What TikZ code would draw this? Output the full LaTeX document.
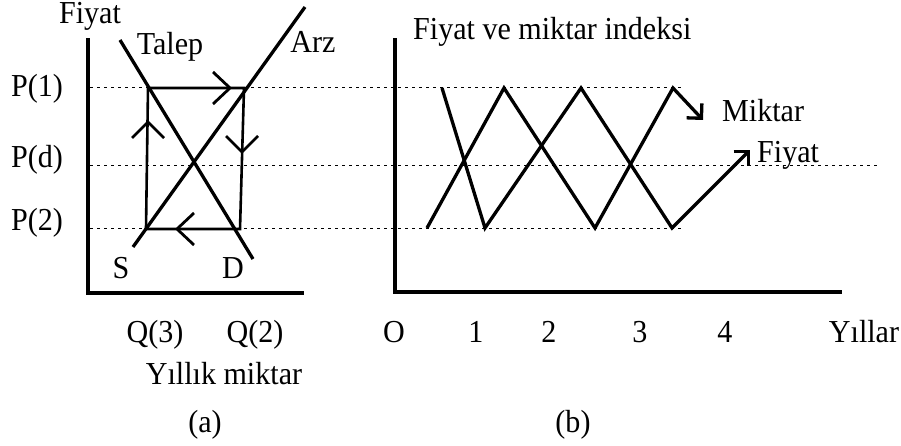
\documentclass[tikz,border=0pt]{standalone}
\usepackage{fontspec}
\setmainfont[FakeStretch=0.94]{Liberation Serif}
\usetikzlibrary{arrows.meta}
\begin{document}
\begin{tikzpicture}[x=1pt,y=-1pt,
  lbl/.style={font=\fontsize{32}{38}\selectfont, inner sep=0pt, anchor=base},
  lblw/.style={lbl, anchor=base west},
  axisline/.style={line width=3.2pt, line cap=rect},
  curve/.style={line width=3.3pt},
  boxline/.style={line width=2.6pt},
  guide/.style={line width=1pt, dash pattern=on 3pt off 4pt},
  chevron/.style={line width=2.8pt},
  endarrow/.style={-{Straight Barb[length=10.5pt,width=21pt]}}
]
\useasboundingbox[fill=white] (0,0) rectangle (901,446);

% ---------- guide lines ----------
\draw[guide] (90,88) -- (683,88);
\draw[guide] (90,166) -- (880,166);
\draw[guide] (90,229) -- (683,229);

% ---------- panel (a) ----------
\coordinate (oa) at (88,293);
\coordinate (ya) at (88,40);
\coordinate (xa) at (302,293);
\draw[axisline] (ya) -- (oa) -- (xa);

\coordinate (A) at (148,88);
\coordinate (B) at (244,88);
\coordinate (C) at (240,229);
\coordinate (D) at (146,229);
\draw[boxline] (A) -- (B) -- (C) -- (D) -- cycle;

\coordinate (dem1) at (120,40);
\coordinate (dem2) at (253,259);
\coordinate (sup1) at (133,247);
\coordinate (sup2) at (305,7);
\draw[curve] (dem1) -- (dem2);
\draw[curve] (sup1) -- (sup2);

% chevrons on the box
\coordinate (t1) at (230,88);
\coordinate (t2) at (148,122);
\coordinate (t3) at (242,152);
\coordinate (t4) at (177,229);
\draw[chevron] ([shift={(-17,-16)}]t1) -- (t1) -- ([shift={(-17,16)}]t1);
\draw[chevron] ([shift={(-16,16)}]t2) -- (t2) -- ([shift={(16,16)}]t2);
\draw[chevron] ([shift={(-16,-16)}]t3) -- (t3) -- ([shift={(16,-16)}]t3);
\draw[chevron] ([shift={(17,-16)}]t4) -- (t4) -- ([shift={(17,16)}]t4);

\node[lbl] (fiyatA) at (90,24) {Fiyat};
\node[lbl] (talep) at (170,55) {Talep};
\node[lbl] (arz) at (313,53) {Arz};
\node[lbl] (p1) at (37,97) {P(1)};
\node[lbl] (pd) at (37,168) {P(d)};
\node[lbl] (p2) at (37,230) {P(2)};
\node[lbl] (S) at (121,278) {S};
\node[lbl] (Dl) at (233,278) {D};
\node[lbl] (q3) at (155,342) {Q(3)};
\node[lbl] (q2) at (255,342) {Q(2)};
\node[lbl] (ym) at (224,384) {Yıllık miktar};
\node[lbl] (capa) at (205,432) {(a)};

% ---------- panel (b) ----------
\coordinate (ob) at (395,292);
\coordinate (yb) at (395,40);
\coordinate (xb) at (840,292);
\draw[axisline] (yb) -- (ob) -- (xb);

\draw[curve, endarrow] (427,228) -- (504,88) -- (595,228) -- (673,88) -- (703,120);
\draw[curve, endarrow] (442,88) -- (485,228) -- (581,88) -- (672,228) -- (750,150);

\node[lblw] (title) at (413,40) {Fiyat ve miktar indeksi};
\node[lblw] (miktar) at (722,122) {Miktar};
\node[lblw] (fiyatB) at (757,163) {Fiyat};
\node[lbl] (t0) at (394,342) {O};
\node[lbl] (tk1) at (476,342) {1};
\node[lbl] (tk2) at (549,342) {2};
\node[lbl] (tk3) at (640,342) {3};
\node[lbl] (tk4) at (725,342) {4};
\node[lbl] (yil) at (864,342) {Yıllar};
\node[lbl] (capb) at (573,432) {(b)};
\end{tikzpicture}
\end{document}
